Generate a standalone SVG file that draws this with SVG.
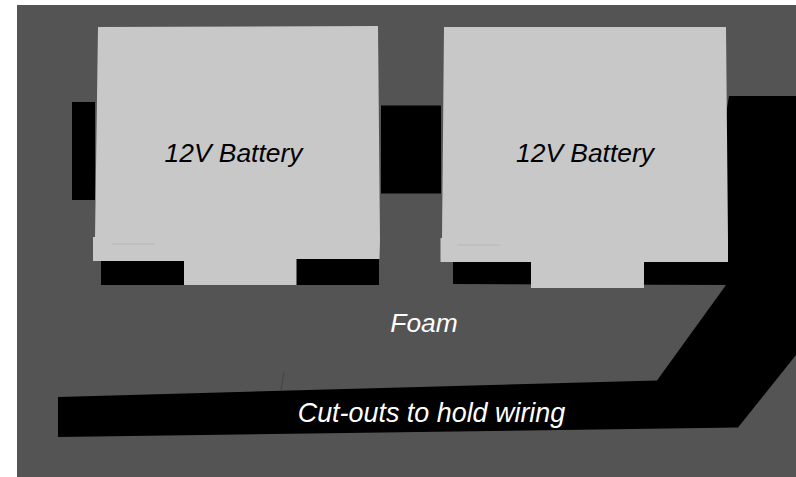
<svg xmlns="http://www.w3.org/2000/svg" width="796" height="477" viewBox="0 0 796 477">
<style>
.cut{fill:#000}
.bat{fill:#c8c8c8}
.t{font-family:"Liberation Sans",Arial,sans-serif;font-style:italic;font-size:26.400px;text-anchor:middle}
.mark{fill:none;stroke-linecap:round}
</style>
<rect width="796" height="477" fill="#fff"/>
<g id="foam"><rect x="17" y="5" width="779" height="472" fill="#545454"/>
<path class="mark" d="M284 372 L281 390" stroke="#444" stroke-width="1"/>
<text class="t" x="424" y="332" fill="#fff">Foam</text></g>
<g id="cutouts">
<polygon class="cut" points="72,102 95,102 95,200 72,200"/>
<polygon class="cut" points="381,105.500 441,105.500 441,193.500 381,193.500"/>
<polygon class="cut" points="101,258 379,258 379,285 101,285"/>
<polygon class="cut" points="453,258 729,258 729,285 453,284"/>
<polygon class="cut" points="729,96 796,96 796,355 738,427.500 58,437 58,397 657,380.500 726,285 700,270"/>
<text class="t" x="431.500" y="422" fill="#fff" style="font-size:26.900px">Cut-outs to hold wiring</text>
</g>
<g id="battery-1">
<polygon class="bat" points="98,27 378,26 380,240 379.500,259 296.500,259 296.500,285 184,285 184,261 93,261 93,237 95,237"/>
<path class="mark" d="M112 244 H154" stroke="#bcbcbc" stroke-width="1.500"/>
<text class="t" x="233.500" y="162" fill="#000">12V Battery</text></g>
<g id="battery-2">
<polygon class="bat" points="444,27 726,27 728,240 728,262 644,262 644,288 531,288 531,262 440.500,262 440.500,238 442,238"/>
<path class="mark" d="M458 245 H499" stroke="#bcbcbc" stroke-width="1.500"/>
<text class="t" x="585" y="162" fill="#000">12V Battery</text></g>
</svg>
